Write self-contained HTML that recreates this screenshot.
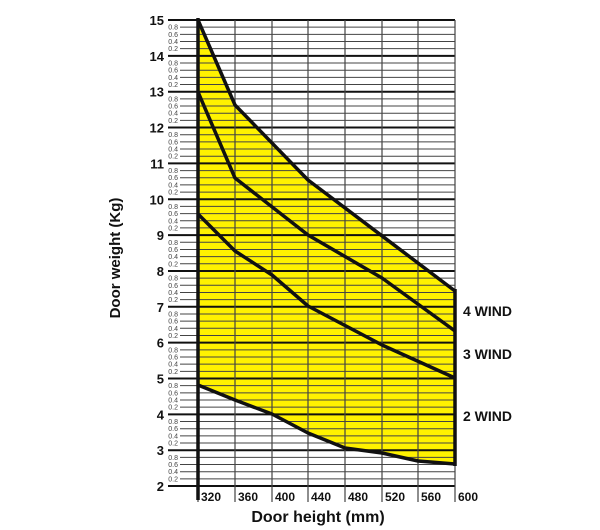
<!DOCTYPE html>
<html><head><meta charset="utf-8"><style>body{margin:0;background:#fff}svg{display:block}text{font-family:"Liberation Sans",Arial,sans-serif}</style></head>
<body>
<svg id="s" width="600" height="530" xmlns="http://www.w3.org/2000/svg">
<polygon points="198,20 235,105 308,180 455,291 455,464 418,461 382,453 345,448 308,433 272,414 235,400 198,385" fill="#fff200"/>
<g id="grid"></g>
<g fill="none" stroke="#111" stroke-width="3.5" stroke-linejoin="round">
<polyline points="198,20 235,105 308,180 455,291"/>
<polyline points="198,92 235,178 308,235 382,278 455,331"/>
<polyline points="198,214 235,251 272,275 308,306 382,345 455,378"/>
<polyline points="198,385 235,400 272,414 308,433 345,448 382,453 418,461 455,464"/>
<line x1="198" y1="18" x2="198" y2="500"/>
<line x1="455" y1="289" x2="455" y2="466"/>
</g>
<g font-weight="bold" font-size="14" fill="#111">
<text x="463" y="316">4 WIND</text>
<text x="463" y="359">3 WIND</text>
<text x="463" y="421">2 WIND</text>
</g>
<text transform="translate(120,258) rotate(-90)" text-anchor="middle" font-weight="bold" font-size="15" fill="#111">Door weight (Kg)</text>
<text x="318" y="522" text-anchor="middle" font-weight="bold" font-size="16" fill="#111">Door height (mm)</text>
</svg>
<script>
var g=document.getElementById('grid'),ns='http://www.w3.org/2000/svg',h='';
var y0=20,u=35.85;
for(var v=15;v>=2;v--){var y=y0+(15-v)*u;
h+='<line x1="168" y1="'+y+'" x2="455" y2="'+y+'" stroke="#111" stroke-width="2"/>';
h+='<text x="164" y="'+(y+5)+'" text-anchor="end" font-weight="bold" font-size="13" fill="#111">'+v+'</text>';
if(v>2){for(var k=1;k<=4;k++){var yy=y+k*u/5;var lab=['0.8','0.6','0.4','0.2'][k-1];
h+='<line x1="180" y1="'+yy+'" x2="455" y2="'+yy+'" stroke="#444" stroke-width="1"/>';
h+='<text x="178" y="'+(yy+2.5)+'" text-anchor="end" font-size="7" fill="#444">'+lab+'</text>';}}}
var xs=[198,235,272,308,345,382,418,455],lb=[320,360,400,440,480,520,560,600];
for(var i=0;i<8;i++){h+='<line x1="'+xs[i]+'" y1="20" x2="'+xs[i]+'" y2="502" stroke="#444" stroke-width="1.2"/>';
h+='<text x="'+(xs[i]+3)+'" y="501" font-weight="bold" font-size="12" fill="#111">'+lb[i]+'</text>';}
g.innerHTML=h;
</script>
</body></html>
